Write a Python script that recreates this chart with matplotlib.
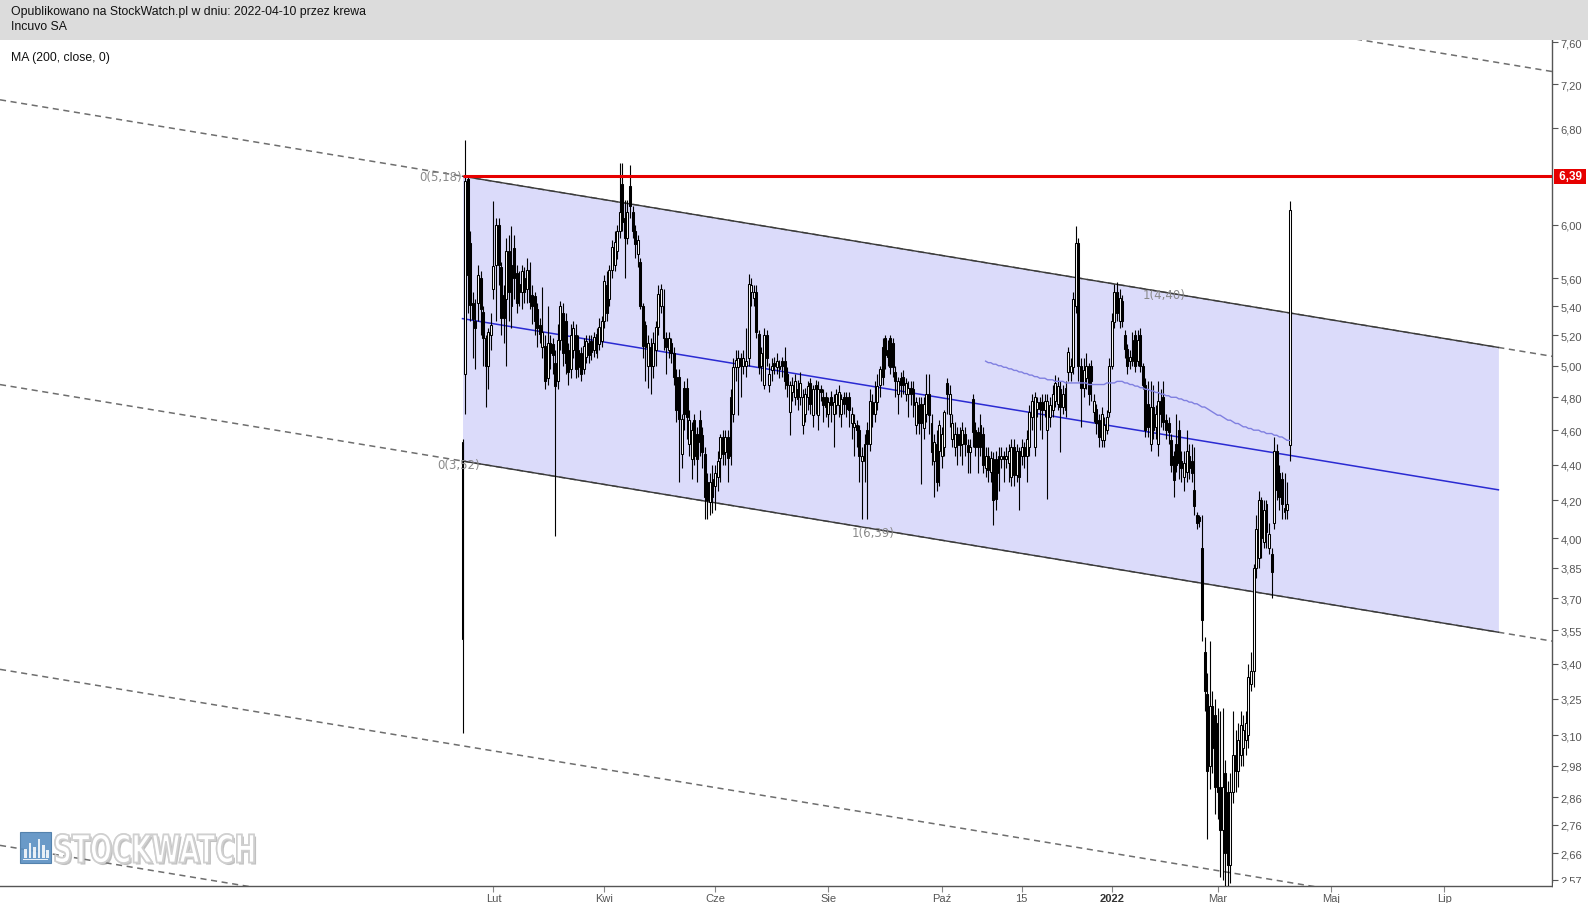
import numpy as np
import pandas as pd
import matplotlib
matplotlib.use("Agg")
import matplotlib.pyplot as plt
import matplotlib.patheffects as pe
import matplotlib.transforms as mtransforms
from matplotlib.patches import Rectangle, PathPatch
from matplotlib.textpath import TextPath
from matplotlib.font_manager import FontProperties
from matplotlib.ticker import NullLocator, NullFormatter


# ----------------------------
# Data
# ----------------------------

START_DATE = "2021-01-14"
AXIS_END_DATE = "2022-08-31"

opens = [
    3.51, 4.95, 6.37, 5.86, 5.42, 5.30, 5.42, 5.60, 5.36, 5.18,
    5.00, 5.20, 5.52, 5.70, 6.00, 5.68, 5.48, 5.45, 5.80, 5.70,
    5.82, 5.64, 5.56, 5.50, 5.60, 5.52, 5.66, 5.48, 5.47, 5.38,
    5.27, 5.12, 5.13, 4.92, 5.15, 5.14, 5.02, 4.90, 5.17, 5.35,
    5.30, 5.10, 4.98, 5.10, 5.20, 4.99, 5.08, 4.98, 5.06, 5.15,
    5.16, 5.10, 5.08, 5.14, 5.16, 5.30, 5.55, 5.45, 5.66, 5.70,
    5.80, 5.95, 6.33, 6.05, 5.90, 6.31, 6.10, 5.95, 5.78, 5.72,
    5.40, 5.27, 5.00, 5.12, 5.00, 5.10, 5.26, 5.40, 5.40, 5.18,
    5.10, 5.15, 5.08, 4.93, 4.93, 4.46, 4.86, 4.86, 4.52, 4.43,
    4.66, 4.58, 4.66, 4.57, 4.46, 4.30, 4.19, 4.32, 4.28, 4.33,
    4.44, 4.56, 4.47, 4.56, 4.45, 4.70, 4.99, 4.99, 5.05, 5.00,
    5.00, 5.05, 5.50, 5.46, 5.50, 5.21, 5.00, 4.88, 5.20, 4.88,
    4.97, 5.02, 4.99, 4.98, 5.03, 5.03, 4.95, 4.71, 4.83, 4.80,
    4.85, 4.80, 4.63, 4.70, 4.80, 4.89, 4.69, 4.88, 4.69, 4.85,
    4.80, 4.80, 4.70, 4.80, 4.70, 4.75, 4.75, 4.70, 4.80, 4.80,
    4.80, 4.64, 4.62, 4.63, 4.60, 4.42, 4.42, 4.60, 4.52, 4.77,
    4.70, 4.77, 4.88, 5.12, 5.18, 5.10, 5.18, 5.15, 4.96, 4.82,
    4.92, 4.93, 4.82, 4.82, 4.86, 4.85, 4.63, 4.75, 4.76, 4.61,
    4.70, 4.82, 4.64, 4.42, 4.52, 4.48, 4.45, 4.50, 4.89, 4.70,
    4.55, 4.50, 4.58, 4.58, 4.52, 4.58, 4.51, 4.47, 4.79, 4.60,
    4.59, 4.63, 4.58, 4.38, 4.45, 4.36, 4.43, 4.43, 4.35, 4.43,
    4.45, 4.43, 4.41, 4.33, 4.50, 4.34, 4.48, 4.45, 4.50, 4.45,
    4.50, 4.68, 4.50, 4.73, 4.77, 4.77, 4.72, 4.60, 4.68, 4.72,
    4.78, 4.76, 4.85, 4.74, 4.72, 4.96, 4.96, 4.99, 5.40, 5.86,
    5.00, 4.86, 4.92, 5.00, 5.00, 4.71, 4.73, 4.66, 4.54, 4.54,
    4.60, 4.71, 5.00, 5.29, 5.50, 5.30, 5.44, 5.20, 5.11, 5.03,
    5.03, 5.20, 5.03, 5.20, 5.00, 4.88, 4.76, 4.52, 4.74, 4.62,
    4.52, 4.78, 4.80, 4.66, 4.64, 4.54, 4.45, 4.52, 4.60, 4.42,
    4.33, 4.36, 4.45, 4.42, 4.26, 4.12, 4.11, 3.95, 3.45, 3.27,
    2.98, 3.22, 3.18, 3.15, 2.90, 2.74, 2.95, 2.88, 2.62, 2.88,
    3.02, 2.96, 3.02, 3.05, 3.08, 3.10, 3.31, 3.37, 3.85, 3.90,
    4.20, 3.98, 4.18, 3.95, 3.92, 4.08, 4.48, 4.35, 4.32, 4.14,
    4.15, 4.51,
]

highs = [
    4.55, 6.70, 6.40, 5.95, 5.50, 5.45, 5.70, 5.65, 5.40, 5.20,
    5.25, 5.35, 6.19, 6.05, 6.05, 5.72, 5.55, 5.90, 5.92, 5.99,
    5.92, 5.70, 5.65, 5.70, 5.68, 5.75, 5.72, 5.55, 5.50, 5.42,
    5.32, 5.54, 5.20, 5.40, 5.20, 5.18, 5.10, 5.28, 5.44, 5.42,
    5.35, 5.15, 5.28, 5.30, 5.28, 5.20, 5.12, 5.18, 5.20, 5.20,
    5.20, 5.22, 5.25, 5.32, 5.33, 5.62, 5.65, 5.70, 5.88, 5.95,
    6.00, 6.50, 6.50, 6.20, 6.20, 6.48, 6.15, 6.00, 5.92, 5.75,
    5.42, 5.30, 5.20, 5.18, 5.22, 5.30, 5.55, 5.56, 5.52, 5.22,
    5.22, 5.18, 5.12, 4.98, 4.98, 4.70, 4.90, 4.92, 4.72, 4.65,
    4.70, 4.62, 4.72, 4.62, 4.50, 4.35, 4.35, 4.40, 4.40, 4.48,
    4.58, 4.60, 4.60, 4.60, 4.85, 5.05, 5.10, 5.10, 5.08, 5.10,
    5.25, 5.63, 5.60, 5.55, 5.55, 5.24, 5.12, 5.25, 5.24, 5.02,
    5.05, 5.06, 5.08, 5.04, 5.06, 5.12, 4.99, 4.90, 4.93, 4.95,
    4.91, 4.96, 4.85, 4.86, 4.90, 4.92, 4.88, 4.91, 4.90, 4.88,
    4.85, 4.83, 4.80, 4.84, 4.82, 4.85, 4.88, 4.82, 4.83, 4.83,
    4.83, 4.74, 4.70, 4.66, 4.63, 4.50, 4.58, 4.65, 4.85, 4.82,
    4.90, 4.95, 5.00, 5.18, 5.20, 5.17, 5.20, 5.18, 5.00, 4.93,
    4.96, 4.97, 4.92, 4.90, 4.90, 4.90, 4.80, 4.80, 4.80, 4.80,
    4.95, 4.95, 4.70, 4.58, 4.60, 4.66, 4.62, 4.72, 4.92, 4.88,
    4.70, 4.65, 4.62, 4.62, 4.65, 4.62, 4.55, 4.55, 4.82, 4.65,
    4.62, 4.70, 4.62, 4.50, 4.50, 4.48, 4.47, 4.48, 4.50, 4.50,
    4.48, 4.50, 4.52, 4.55, 4.55, 4.52, 4.50, 4.55, 4.53, 4.60,
    4.75, 4.82, 4.83, 4.80, 4.80, 4.82, 4.82, 4.82, 4.80, 4.88,
    4.94, 4.93, 4.90, 4.88, 4.90, 5.12, 5.05, 5.50, 5.99, 5.90,
    5.05, 5.05, 5.08, 5.02, 5.04, 4.82, 4.76, 4.70, 4.74, 4.68,
    4.72, 5.05, 5.35, 5.56, 5.57, 5.52, 5.48, 5.24, 5.14, 5.10,
    5.22, 5.24, 5.24, 5.25, 5.02, 4.92, 4.90, 4.90, 4.88, 4.75,
    4.90, 4.85, 4.90, 4.70, 4.68, 4.58, 4.48, 4.70, 4.66, 4.48,
    4.48, 4.60, 4.52, 4.52, 4.50, 4.14, 4.12, 4.12, 3.52, 3.36,
    3.50, 3.28, 3.25, 3.21, 3.20, 3.21, 3.00, 2.92, 2.95, 3.20,
    3.12, 3.15, 3.20, 3.18, 3.20, 3.40, 3.45, 3.87, 4.12, 4.25,
    4.22, 4.20, 4.20, 4.08, 3.95, 4.56, 4.52, 4.40, 4.36, 4.35,
    4.30, 6.19,
]

lows = [
    3.11, 4.70, 5.35, 5.30, 5.05, 4.98, 5.30, 5.20, 5.00, 4.74,
    4.85, 5.10, 5.45, 5.30, 5.55, 5.20, 5.15, 5.00, 5.30, 5.25,
    5.45, 5.35, 5.40, 5.38, 5.42, 5.42, 5.38, 5.28, 5.20, 5.12,
    5.15, 5.05, 4.85, 4.88, 4.98, 4.95, 4.01, 4.85, 5.10, 5.00,
    4.95, 4.88, 4.92, 5.05, 4.92, 4.93, 4.90, 4.95, 5.02, 5.02,
    5.04, 5.06, 5.05, 5.10, 5.12, 5.25, 5.30, 5.40, 5.60, 5.65,
    5.74, 5.90, 5.95, 5.60, 5.85, 6.05, 5.90, 5.75, 5.68, 5.38,
    5.05, 4.90, 4.86, 4.82, 4.92, 5.00, 5.20, 5.35, 5.10, 4.95,
    5.05, 5.02, 4.88, 4.65, 4.30, 4.38, 4.60, 4.55, 4.45, 4.32,
    4.40, 4.30, 4.45, 4.38, 4.10, 4.10, 4.12, 4.13, 4.15, 4.25,
    4.30, 4.40, 4.40, 4.30, 4.40, 4.65, 4.90, 4.69, 4.80, 4.95,
    4.93, 5.00, 5.40, 5.40, 5.18, 4.95, 4.90, 4.85, 5.00, 4.83,
    4.90, 4.95, 4.95, 4.92, 4.93, 4.85, 4.80, 4.57, 4.78, 4.75,
    4.72, 4.75, 4.58, 4.65, 4.72, 4.70, 4.62, 4.70, 4.60, 4.78,
    4.65, 4.68, 4.62, 4.65, 4.50, 4.70, 4.68, 4.62, 4.70, 4.68,
    4.62, 4.55, 4.45, 4.50, 4.30, 4.10, 4.30, 4.10, 4.48, 4.62,
    4.65, 4.72, 4.80, 4.88, 4.98, 5.00, 4.95, 4.93, 4.80, 4.70,
    4.80, 4.82, 4.78, 4.68, 4.75, 4.68, 4.58, 4.58, 4.29, 4.55,
    4.65, 4.58, 4.40, 4.22, 4.25, 4.28, 4.38, 4.45, 4.70, 4.62,
    4.50, 4.45, 4.40, 4.45, 4.40, 4.45, 4.35, 4.35, 4.50, 4.45,
    4.35, 4.45, 4.35, 4.33, 4.30, 4.30, 4.07, 4.15, 4.25, 4.38,
    4.30, 4.38, 4.30, 4.28, 4.28, 4.30, 4.15, 4.40, 4.38, 4.30,
    4.45, 4.60, 4.45, 4.68, 4.60, 4.55, 4.68, 4.21, 4.62, 4.68,
    4.74, 4.72, 4.47, 4.70, 4.68, 4.90, 4.90, 4.95, 5.35, 4.90,
    4.62, 4.80, 4.85, 4.75, 4.78, 4.65, 4.58, 4.50, 4.50, 4.50,
    4.58, 4.68, 4.98, 5.25, 5.30, 5.25, 5.26, 5.05, 4.95, 4.98,
    5.00, 4.96, 5.00, 4.96, 4.85, 4.56, 4.56, 4.48, 4.55, 4.55,
    4.45, 4.62, 4.60, 4.55, 4.52, 4.36, 4.22, 4.36, 4.32, 4.30,
    4.25, 4.30, 4.32, 4.30, 4.12, 4.05, 4.06, 3.50, 3.20, 2.71,
    2.89, 2.95, 2.80, 2.78, 2.58, 2.57, 2.55, 2.55, 2.56, 2.84,
    2.88, 2.90, 2.98, 2.98, 3.02, 3.05, 3.28, 3.30, 3.80, 3.85,
    3.90, 3.95, 3.95, 3.92, 3.70, 4.05, 4.20, 4.15, 4.10, 4.10,
    4.10, 4.42,
]

closes = [
    4.53, 6.35, 5.62, 5.41, 5.31, 5.25, 5.62, 5.38, 5.18, 5.00,
    5.22, 5.27, 5.69, 6.00, 5.70, 5.32, 5.32, 5.80, 5.50, 5.40,
    5.60, 5.42, 5.50, 5.65, 5.50, 5.66, 5.43, 5.40, 5.30, 5.25,
    5.21, 5.22, 4.90, 5.15, 5.08, 5.07, 4.87, 5.17, 5.40, 5.08,
    5.02, 4.96, 5.20, 5.25, 4.98, 5.10, 4.95, 5.13, 5.16, 5.07,
    5.09, 5.19, 5.21, 5.26, 5.30, 5.58, 5.35, 5.66, 5.83, 5.87,
    5.95, 6.10, 6.02, 5.90, 6.10, 6.15, 5.95, 5.85, 5.88, 5.40,
    5.13, 5.12, 5.15, 5.00, 5.15, 5.26, 5.49, 5.52, 5.18, 5.12,
    5.18, 5.08, 4.93, 4.72, 4.67, 4.67, 4.70, 4.68, 4.66, 4.60,
    4.45, 4.43, 4.53, 4.47, 4.22, 4.20, 4.30, 4.22, 4.35, 4.42,
    4.56, 4.46, 4.56, 4.44, 4.80, 4.99, 5.04, 5.05, 5.00, 5.05,
    5.03, 5.56, 5.55, 5.50, 5.22, 4.99, 5.08, 5.20, 5.05, 4.95,
    5.00, 5.00, 5.03, 5.00, 5.00, 4.90, 4.88, 4.88, 4.88, 4.90,
    4.79, 4.89, 4.80, 4.82, 4.87, 4.76, 4.85, 4.85, 4.85, 4.83,
    4.75, 4.74, 4.77, 4.75, 4.77, 4.82, 4.83, 4.79, 4.76, 4.73,
    4.72, 4.70, 4.64, 4.60, 4.45, 4.45, 4.52, 4.52, 4.78, 4.70,
    4.77, 4.87, 4.98, 4.93, 5.07, 5.06, 4.99, 4.99, 4.90, 4.90,
    4.88, 4.88, 4.89, 4.86, 4.82, 4.75, 4.77, 4.64, 4.64, 4.76,
    4.82, 4.69, 4.47, 4.53, 4.30, 4.63, 4.58, 4.71, 4.82, 4.82,
    4.64, 4.58, 4.51, 4.51, 4.60, 4.52, 4.47, 4.50, 4.59, 4.50,
    4.50, 4.50, 4.40, 4.45, 4.37, 4.44, 4.20, 4.21, 4.45, 4.45,
    4.43, 4.45, 4.48, 4.50, 4.34, 4.48, 4.33, 4.50, 4.45, 4.55,
    4.71, 4.78, 4.80, 4.77, 4.73, 4.72, 4.78, 4.78, 4.75, 4.82,
    4.89, 4.87, 4.74, 4.82, 4.86, 5.09, 5.00, 5.45, 5.86, 5.00,
    4.86, 4.97, 5.00, 4.82, 4.90, 4.78, 4.64, 4.56, 4.70, 4.63,
    4.68, 5.00, 5.30, 5.50, 5.35, 5.46, 5.30, 5.11, 5.00, 5.06,
    5.17, 5.00, 5.17, 5.00, 4.88, 4.60, 4.62, 4.74, 4.60, 4.70,
    4.78, 4.70, 4.65, 4.60, 4.59, 4.40, 4.31, 4.40, 4.41, 4.38,
    4.41, 4.48, 4.38, 4.35, 4.17, 4.08, 4.09, 3.60, 3.28, 2.96,
    3.22, 3.05, 2.90, 2.88, 2.74, 2.90, 2.66, 2.62, 2.88, 3.02,
    2.96, 3.08, 3.14, 3.12, 3.15, 3.34, 3.37, 3.85, 4.05, 4.20,
    4.00, 4.15, 4.03, 4.02, 3.83, 4.48, 4.26, 4.22, 4.18, 4.16,
    4.18, 6.12,
]

# MA(200, close) as drawn, starting at candle 203
MA_START = 203
ma200 = [
    5.03, 5.02, 5.02, 5.01, 5.01, 5.00, 5.00, 4.99, 4.99, 4.98,
    4.98, 4.97, 4.97, 4.96, 4.96, 4.95, 4.95, 4.94, 4.94, 4.93,
    4.93, 4.92, 4.92, 4.92, 4.91, 4.91, 4.91, 4.90, 4.90, 4.90,
    4.90, 4.89, 4.89, 4.89, 4.89, 4.89, 4.89, 4.89, 4.89, 4.89,
    4.88, 4.88, 4.88, 4.88, 4.88, 4.88, 4.88, 4.89, 4.89, 4.89,
    4.89, 4.90, 4.90, 4.90, 4.89, 4.89, 4.88, 4.88, 4.87, 4.87,
    4.86, 4.86, 4.85, 4.85, 4.84, 4.84, 4.83, 4.83, 4.82, 4.82,
    4.81, 4.81, 4.80, 4.80, 4.80, 4.79, 4.79, 4.78, 4.78, 4.77,
    4.77, 4.76, 4.76, 4.75, 4.74, 4.74, 4.73, 4.72, 4.71, 4.70,
    4.69, 4.69, 4.68, 4.67, 4.66, 4.66, 4.65, 4.64, 4.64, 4.63,
    4.62, 4.62, 4.61, 4.61, 4.60, 4.60, 4.60, 4.59, 4.59, 4.58,
    4.58, 4.58, 4.57, 4.57, 4.56, 4.56, 4.55, 4.54, 4.54,
]

# regression channel drawn by the author
CHANNEL_X = [0, 402]
CHANNEL_TOP = [6.39, 5.12]
CHANNEL_BOTTOM_START = 4.42
CHANNEL_LEVELS = [-1, 0, 1, 2, 2.618]
RESISTANCE = 6.39

tick_dates = ["2021-02-01", "2021-04-01", "2021-06-01", "2021-08-02", "2021-10-01",
              "2021-11-15", "2022-01-03", "2022-03-01", "2022-05-02", "2022-07-01"]
tick_labels = ["Lut", "Kwi", "Cze", "Sie", "Paź", "15", "2022", "Mar", "Maj", "Lip"]

y_ticks = [2.57, 2.66, 2.76, 2.86, 2.98, 3.10, 3.25, 3.40, 3.55, 3.70, 3.85, 4.00,
           4.20, 4.40, 4.60, 4.80, 5.00, 5.20, 5.40, 5.60, 6.00, 6.80, 7.20, 7.60]


# ----------------------------
# Helpers
# ----------------------------

W, H = 1588, 904
FONT = ["Liberation Sans", "DejaVu Sans"]


def fx(px):
    return px / W


def fy(py):
    return 1 - py / H


def channel_level(k, x):
    x = np.asarray(x, dtype=float)
    top0 = np.log(CHANNEL_TOP[0])
    slope = (np.log(CHANNEL_TOP[1]) - top0) / (CHANNEL_X[1] - CHANNEL_X[0])
    width = np.log(CHANNEL_BOTTOM_START) - top0
    return np.exp(top0 + k * width + slope * (x - CHANNEL_X[0]))


def boxed_text(fig, text, left, top, width, height, **kw):
    # text path squeezed into a pixel box (figure pixels, origin top-left)
    tp = TextPath((0, 0), text, size=50,
                  prop=FontProperties(family="DejaVu Sans", weight="bold"))
    bb = tp.get_extents()
    tr = (mtransforms.Affine2D()
          .translate(-bb.x0, -bb.y0)
          .scale(width / bb.width, height / bb.height)
          .translate(left, H - top - height))
    patch = PathPatch(tp, transform=tr, **kw)
    fig.add_artist(patch)
    return patch


# ----------------------------
# Figure
# ----------------------------

fig = plt.figure(figsize=(W / 100, H / 100), dpi=100)
fig.patch.set_facecolor("white")
ax = fig.add_axes([0, (H - 887) / H, 1552 / W, (887 - 40) / H])
ax.set_yscale("log")
x_lim = (-179.5, 422.8)
ax.set_xlim(*x_lim)
ax.set_ylim(2.550, 7.632)

n = len(closes)
o = np.array(opens)
h = np.array(highs)
l = np.array(lows)
c = np.array(closes)
x = np.arange(n)

# channel
xs_all = np.array(x_lim)
xs_ch = np.array(CHANNEL_X, dtype=float)
ax.fill_between(xs_ch, channel_level(1, xs_ch), channel_level(0, xs_ch),
                color="#dbdbfa", lw=0, zorder=1)
for k in CHANNEL_LEVELS:
    ax.plot(xs_all, channel_level(k, xs_all), color="#6e6e6e", lw=1.1,
            ls=(0, (4, 3)), zorder=2)
for k in (0, 1):
    ax.plot(xs_ch, channel_level(k, xs_ch), color="#3a3a3a", lw=1.0, zorder=2.5)
ax.plot(xs_ch, channel_level(0.5, xs_ch), color="#2a2ad2", lw=1.1, zorder=2.6)

# candles
up = c >= o
body_low = np.minimum(o, c)
body_h = np.maximum(np.abs(c - o), 0.006)
ax.vlines(x, l, h, color="black", lw=0.8, zorder=3)
ax.bar(x[up], body_h[up], bottom=body_low[up], width=0.75, facecolor="white",
       edgecolor="black", linewidth=0.75, zorder=4)
ax.bar(x[~up], body_h[~up], bottom=body_low[~up], width=0.75, facecolor="black",
       edgecolor="black", linewidth=0.75, zorder=4)

# moving average
ax.plot(np.arange(MA_START, MA_START + len(ma200)), ma200, color="#7f7fe0",
        lw=1.0, zorder=5)

# resistance
ax.plot([0, x_lim[1]], [RESISTANCE, RESISTANCE], color="#e60000", lw=2.2,
        zorder=6, solid_capstyle="butt")
blend = mtransforms.blended_transform_factory(ax.transAxes, ax.transData)
ax.text(1 + 3.5 / 1552, RESISTANCE, " " + f"{RESISTANCE:.2f}".replace(".", ",") + " ",
        transform=blend, ha="left", va="center", color="white",
        fontsize=8.5, fontweight="bold", family=FONT, clip_on=False, zorder=12,
        bbox=dict(boxstyle="square,pad=0.12", fc="#e60000", ec="none"))

# channel labels
lab = dict(color="#8a8a8a", fontsize=8.5, family="DejaVu Sans", zorder=7)
ax.text(-0.3, 6.39, "0(5,18)", ha="right", va="center", **lab)
ax.text(-1.7, 4.40, "0(3,52)", ha="center", va="center", **lab)
ax.text(159.3, 4.03, "1(6,39)", ha="center", va="center", **lab)
ax.text(272.2, 5.48, "1(4,40)", ha="center", va="center", **lab)

# axes styling
for side in ("left", "top"):
    ax.spines[side].set_visible(False)
for side in ("right", "bottom"):
    ax.spines[side].set_color("#555555")
    ax.spines[side].set_linewidth(1.0)

ax.yaxis.set_minor_locator(NullLocator())
ax.yaxis.set_minor_formatter(NullFormatter())
ax.set_yticks(y_ticks)
ax.set_yticklabels([f"{v:.2f}".replace(".", ",") for v in y_ticks])
ax.tick_params(axis="y", which="major", left=False, right=True, labelleft=False,
               labelright=True, length=4, width=0.8, color="#555555",
               labelcolor="#555555", labelsize=8, pad=2)

axis_dates = pd.bdate_range(START_DATE, AXIS_END_DATE)
tick_pos = axis_dates.searchsorted(pd.to_datetime(tick_dates))
ax.set_xticks(tick_pos)
ax.set_xticklabels(tick_labels)
ax.tick_params(axis="x", length=4, width=0.8, color="#888888",
               labelcolor="#555555", labelsize=8, pad=1)
for t in ax.get_xticklabels() + ax.get_yticklabels():
    t.set_family(FONT)
for t in ax.get_xticklabels():
    if t.get_text() == "2022":
        t.set_fontweight("bold")
        t.set_color("#333333")

# header band
fig.patches.append(Rectangle((0, fy(41)), 1, 41 / H, transform=fig.transFigure,
                             facecolor="#dcdcdc", edgecolor="none", zorder=10))
fig.patches.append(Rectangle((fx(1553), 0), 1, 20 / H, transform=fig.transFigure,
                             facecolor="white", edgecolor="none", zorder=10))
fig.text(fx(11), fy(12), "Opublikowano na StockWatch.pl w dniu: 2022-04-10 przez krewa",
         fontsize=8.8, family=FONT, color="#111111", va="center", zorder=11)
fig.text(fx(11), fy(27.5), "Incuvo SA", fontsize=8.8, family=FONT, color="#111111",
         va="center", zorder=11)
fig.text(fx(11), fy(58), "MA (200, close, 0)", fontsize=8.8, family=FONT,
         color="#111111", va="center", zorder=11)

# watermark
fig.patches.append(Rectangle((fx(20), fy(864)), 31 / W, 31 / H, transform=fig.transFigure,
                             facecolor="#5a8fc2", edgecolor="#4a7aa8", lw=0.8,
                             zorder=11, alpha=0.9))
for bx, bh in [(24, 9), (28.5, 15), (33, 11), (37.5, 19), (42, 13), (46, 8)]:
    fig.patches.append(Rectangle((fx(bx), fy(859)), 2.5 / W, bh / H,
                                 transform=fig.transFigure, facecolor="white",
                                 edgecolor="none", zorder=12, alpha=0.85))
fig.patches.append(Rectangle((fx(23), fy(861)), 25 / W, 1.5 / H,
                             transform=fig.transFigure, facecolor="white",
                             edgecolor="none", zorder=12, alpha=0.85))
boxed_text(fig, "STOCKWATCH", 55, 835, 199, 29, facecolor="white",
           edgecolor="#d0d0d0", lw=1.2, zorder=12,
           path_effects=[pe.withSimplePatchShadow(offset=(1.5, -1.5),
                                                  shadow_rgbFace="#777777", alpha=0.45),
                         pe.Normal()])

fig.savefig("out.png", dpi=100, facecolor="white")
